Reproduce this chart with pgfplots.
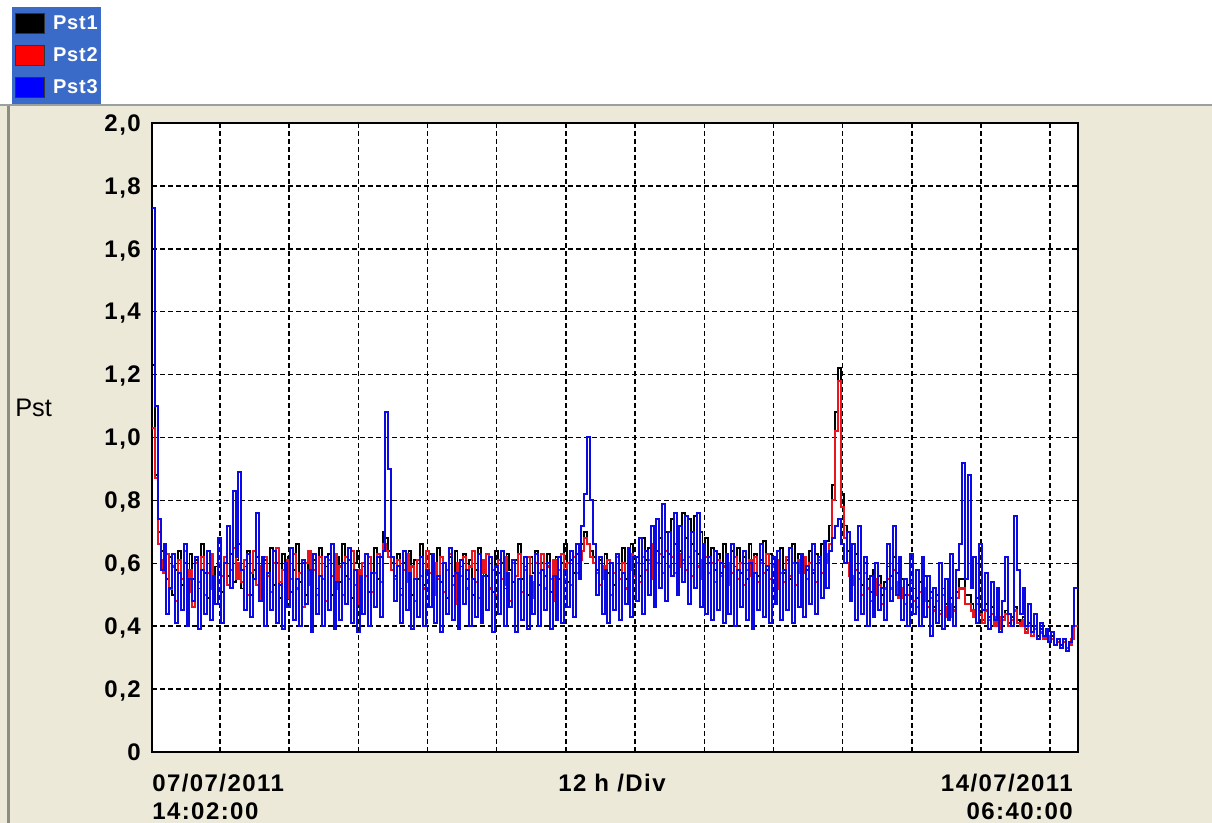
\documentclass[border=0pt]{standalone}
\usepackage{fontspec}
\setmainfont{Liberation Sans}
\newfontfamily\lbfont{Liberation Sans}[LetterSpace=6]
\newfontfamily\lgfont{Liberation Sans}[LetterSpace=4]
\usepackage{pgfplots}
\usepackage{pgfplotstable}
\pgfplotsset{compat=1.18}
\definecolor{beige}{HTML}{ECE9D8}
\definecolor{legblue}{HTML}{3A6BC9}
\definecolor{bandgrey}{HTML}{9AA0A0}
\definecolor{edgegrey}{HTML}{8C8C80}
\definecolor{serblue}{RGB}{10,10,225}
\definecolor{serred}{RGB}{232,20,30}

\pgfplotstableread{
h p1 p2 p3
0 1.23 1.03 1.73
0.5 0.88 0.87 1.10
1 0.70 0.66 0.74
1.5 0.64 0.61 0.58
2 0.60 0.57 0.66
2.5 0.55 0.63 0.44
3 0.62 0.52 0.52
3.5 0.50 0.59 0.63
4 0.58 0.48 0.41
4.5 0.64 0.61 0.57
5 0.53 0.55 0.45
5.5 0.60 0.64 0.66
6 0.48 0.51 0.40
6.5 0.63 0.58 0.55
7 0.55 0.46 0.48
7.5 0.61 0.60 0.62
8 0.52 0.54 0.39
8.5 0.66 0.62 0.58
9 0.57 0.50 0.44
9.5 0.49 0.57 0.64
10 0.62 0.63 0.42
10.5 0.54 0.52 0.56
11 0.59 0.47 0.47
11.5 0.65 0.60 0.68
12 0.51 0.56 0.41
12.5 0.60 0.62 0.60
13 0.56 0.53 0.72
13.5 0.63 0.58 0.52
14 0.54 0.65 0.83
14.5 0.61 0.55 0.62
15 0.66 0.60 0.89
15.5 0.52 0.54 0.58
16 0.59 0.61 0.45
16.5 0.64 0.50 0.63
17 0.50 0.57 0.43
17.5 0.58 0.64 0.55
18 0.62 0.53 0.76
18.5 0.55 0.59 0.48
19 0.48 0.48 0.62
19.5 0.61 0.62 0.40
20 0.57 0.56 0.57
20.5 0.65 0.51 0.45
21 0.53 0.60 0.64
21.5 0.60 0.65 0.41
22 0.49 0.54 0.53
22.5 0.63 0.58 0.39
23 0.56 0.49 0.60
23.5 0.62 0.61 0.46
24 0.51 0.55 0.65
24.5 0.58 0.63 0.42
25 0.66 0.52 0.55
25.5 0.54 0.57 0.40
26 0.60 0.46 0.61
26.5 0.50 0.60 0.47
27 0.64 0.64 0.58
27.5 0.57 0.53 0.38
28 0.61 0.58 0.63
28.5 0.52 0.50 0.44
29 0.65 0.62 0.56
29.5 0.55 0.55 0.40
30 0.59 0.48 0.62
30.5 0.63 0.61 0.45
31 0.50 0.56 0.66
31.5 0.58 0.63 0.39
32 0.62 0.52 0.54
32.5 0.54 0.59 0.42
33 0.66 0.50 0.60
33.5 0.56 0.62 0.47
34 0.61 0.55 0.65
34.5 0.49 0.64 0.41
35 0.60 0.53 0.58
35.5 0.64 0.58 0.38
36 0.53 0.47 0.56
36.5 0.59 0.60 0.44
37 0.63 0.56 0.63
37.5 0.51 0.62 0.40
38 0.57 0.51 0.57
38.5 0.65 0.57 0.46
39 0.55 0.63 0.62
39.5 0.62 0.54 0.43
40 0.70 0.66 0.64
40.5 0.68 0.64 1.08
41 0.64 0.62 0.90
41.5 0.60 0.58 0.62
42 0.56 0.55 0.48
42.5 0.63 0.61 0.59
43 0.52 0.50 0.41
43.5 0.60 0.58 0.64
44 0.57 0.63 0.45
44.5 0.64 0.54 0.57
45 0.50 0.59 0.39
45.5 0.61 0.48 0.55
46 0.55 0.61 0.43
46.5 0.66 0.56 0.62
47 0.53 0.52 0.40
47.5 0.59 0.64 0.58
48 0.63 0.57 0.46
48.5 0.51 0.50 0.63
49 0.58 0.60 0.41
49.5 0.65 0.55 0.56
50 0.54 0.62 0.38
50.5 0.60 0.51 0.60
51 0.49 0.58 0.44
51.5 0.62 0.63 0.65
52 0.56 0.53 0.42
52.5 0.64 0.47 0.57
53 0.52 0.60 0.39
53.5 0.59 0.56 0.61
54 0.63 0.62 0.47
54.5 0.55 0.52 0.58
55 0.61 0.59 0.40
55.5 0.50 0.64 0.55
56 0.58 0.54 0.43
56.5 0.65 0.49 0.63
57 0.53 0.61 0.41
57.5 0.60 0.57 0.56
58 0.56 0.63 0.45
58.5 0.62 0.52 0.62
59 0.51 0.58 0.38
59.5 0.64 0.50 0.59
60 0.57 0.61 0.44
60.5 0.60 0.55 0.64
61 0.52 0.62 0.40
61.5 0.63 0.53 0.57
62 0.58 0.48 0.46
62.5 0.54 0.60 0.61
63 0.61 0.56 0.38
63.5 0.66 0.63 0.55
64 0.55 0.51 0.42
64.5 0.59 0.58 0.62
65 0.50 0.62 0.39
65.5 0.62 0.54 0.56
66 0.57 0.49 0.44
66.5 0.64 0.60 0.63
67 0.53 0.57 0.40
67.5 0.60 0.63 0.58
68 0.56 0.52 0.45
68.5 0.63 0.59 0.60
69 0.51 0.55 0.39
69.5 0.58 0.61 0.56
70 0.62 0.48 0.42
70.5 0.55 0.58 0.62
71 0.60 0.63 0.41
71.5 0.66 0.55 0.58
72 0.54 0.60 0.46
72.5 0.61 0.53 0.64
73 0.57 0.62 0.43
73.5 0.63 0.57 0.66
74 0.59 0.61 0.55
74.5 0.66 0.64 0.72
75 0.70 0.68 0.82
75.5 0.66 0.66 1.00
76 0.64 0.62 0.80
76.5 0.62 0.60 0.66
77 0.58 0.57 0.50
77.5 0.61 0.53 0.62
78 0.55 0.59 0.44
78.5 0.63 0.55 0.58
79 0.57 0.61 0.41
79.5 0.60 0.50 0.60
80 0.53 0.57 0.45
80.5 0.62 0.62 0.63
81 0.58 0.55 0.42
81.5 0.65 0.60 0.57
82 0.55 0.52 0.47
82.5 0.60 0.58 0.65
83 0.66 0.63 0.43
83.5 0.58 0.56 0.62
84 0.62 0.60 0.48
84.5 0.56 0.54 0.68
85 0.68 0.62 0.44
85.5 0.61 0.58 0.64
86 0.65 0.61 0.50
86.5 0.59 0.55 0.72
87 0.72 0.66 0.46
87.5 0.64 0.60 0.74
88 0.68 0.63 0.52
88.5 0.62 0.57 0.79
89 0.70 0.64 0.48
89.5 0.63 0.59 0.70
90 0.74 0.62 0.56
90.5 0.66 0.57 0.76
91 0.72 0.63 0.50
91.5 0.64 0.59 0.72
92 0.76 0.61 0.54
92.5 0.68 0.58 0.75
93 0.74 0.62 0.47
93.5 0.66 0.56 0.70
94 0.75 0.64 0.52
94.5 0.63 0.59 0.76
95 0.70 0.61 0.46
95.5 0.62 0.55 0.66
96 0.68 0.62 0.44
96.5 0.60 0.57 0.62
97 0.65 0.60 0.42
97.5 0.58 0.54 0.64
98 0.63 0.61 0.45
98.5 0.57 0.56 0.60
99 0.66 0.59 0.41
99.5 0.60 0.53 0.63
100 0.56 0.60 0.44
100.5 0.64 0.57 0.66
101 0.59 0.62 0.40
101.5 0.65 0.55 0.58
102 0.57 0.60 0.46
102.5 0.62 0.53 0.64
103 0.55 0.58 0.42
103.5 0.66 0.61 0.60
104 0.59 0.56 0.39
104.5 0.63 0.62 0.57
105 0.56 0.54 0.45
105.5 0.61 0.60 0.66
106 0.67 0.57 0.43
106.5 0.58 0.63 0.59
107 0.63 0.55 0.41
107.5 0.56 0.59 0.62
108 0.62 0.52 0.47
108.5 0.59 0.61 0.64
109 0.65 0.57 0.42
109.5 0.57 0.54 0.58
110 0.61 0.62 0.45
110.5 0.55 0.56 0.65
111 0.66 0.60 0.41
111.5 0.60 0.53 0.60
112 0.63 0.61 0.46
112.5 0.56 0.57 0.63
113 0.62 0.62 0.43
113.5 0.58 0.55 0.59
114 0.64 0.60 0.47
114.5 0.57 0.58 0.66
115 0.63 0.54 0.44
115.5 0.60 0.61 0.62
116 0.66 0.57 0.49
116.5 0.61 0.63 0.67
117 0.67 0.60 0.52
117.5 0.72 0.66 0.64
118 0.85 0.80 0.68
118.5 1.08 1.02 0.72
119 1.22 1.18 0.74
119.5 0.82 0.78 0.66
120 0.72 0.68 0.60
120.5 0.64 0.60 0.70
121 0.60 0.56 0.48
121.5 0.55 0.53 0.66
122 0.63 0.58 0.42
122.5 0.57 0.55 0.72
123 0.53 0.50 0.44
123.5 0.60 0.57 0.62
124 0.55 0.52 0.40
124.5 0.51 0.48 0.56
125 0.58 0.55 0.43
125.5 0.53 0.50 0.60
126 0.56 0.53 0.45
126.5 0.50 0.47 0.52
127 0.54 0.52 0.42
127.5 0.59 0.55 0.66
128 0.56 0.52 0.48
128.5 0.62 0.58 0.72
129 0.57 0.54 0.50
129.5 0.52 0.49 0.62
130 0.55 0.52 0.42
130.5 0.50 0.47 0.55
131 0.53 0.50 0.40
131.5 0.57 0.54 0.63
132 0.52 0.48 0.44
132.5 0.49 0.46 0.58
133 0.54 0.51 0.40
133.5 0.50 0.48 0.62
134 0.56 0.52 0.43
134.5 0.48 0.46 0.56
135 0.51 0.49 0.37
135.5 0.46 0.45 0.52
136 0.50 0.48 0.41
136.5 0.45 0.44 0.60
137 0.52 0.50 0.39
137.5 0.47 0.46 0.55
138 0.44 0.43 0.42
138.5 0.49 0.47 0.63
139 0.46 0.45 0.40
139.5 0.51 0.49 0.58
140 0.55 0.52 0.66
140.5 0.55 0.52 0.92
141 0.50 0.47 0.55
141.5 0.50 0.47 0.88
142 0.47 0.45 0.52
142.5 0.44 0.43 0.62
143 0.49 0.47 0.41
143.5 0.45 0.44 0.66
144 0.42 0.41 0.45
144.5 0.47 0.45 0.57
145 0.43 0.42 0.39
145.5 0.46 0.44 0.54
146 0.41 0.40 0.42
146.5 0.44 0.43 0.52
147 0.40 0.39 0.38
147.5 0.43 0.42 0.48
148 0.45 0.44 0.62
148.5 0.41 0.40 0.44
149 0.43 0.42 0.40
149.5 0.46 0.45 0.75
150 0.42 0.41 0.58
150.5 0.40 0.40 0.44
151 0.43 0.42 0.52
151.5 0.39 0.38 0.40
152 0.41 0.40 0.47
152.5 0.38 0.37 0.38
153 0.40 0.39 0.44
153.5 0.37 0.36 0.36
154 0.39 0.38 0.41
154.5 0.36 0.36 0.37
155 0.38 0.37 0.39
155.5 0.35 0.35 0.35
156 0.37 0.36 0.38
156.5 0.34 0.34 0.34
157 0.36 0.35 0.36
157.5 0.34 0.33 0.33
158 0.35 0.35 0.36
158.5 0.33 0.33 0.32
159 0.35 0.34 0.35
159.5 0.37 0.36 0.40
160 0.40 0.40 0.52
160.63 0.40 0.40 0.52
}\pst

\begin{document}
\begin{tikzpicture}
\useasboundingbox (0,0) rectangle (909pt,617.25pt);
\fill[beige] (0,0) rectangle (909pt,617.25pt);
\fill[white] (0pt,539.25pt) rectangle (909pt,617.25pt);
\fill[bandgrey] (0pt,537.5pt) rectangle (909pt,539.25pt);
\fill[edgegrey] (5.25pt,0pt) rectangle (7.5pt,537.5pt);
\begin{axis}[
  at={(114pt,53.25pt)}, anchor=south west,
  width=694.5pt, height=471.75pt, scale only axis,
  xmin=0, xmax=160.63, ymin=0, ymax=2,
  xtick={11.8,23.8,35.8,47.8,59.8,71.8,83.8,95.8,107.8,119.8,131.8,143.8,155.8},
  xticklabels={},
  ytick={0,0.2,0.4,0.6,0.8,1,1.2,1.4,1.6,1.8,2},
  yticklabels={0,{0,2},{0,4},{0,6},{0,8},{1,0},{1,2},{1,4},{1,6},{1,8},{2,0}},
  major tick length=0pt,
  grid=major,
  major grid style={black, line width=1.1pt, dash pattern=on 3.4pt off 2.6pt},
  axis line style={black, line width=1.1pt},
  axis background/.style={fill=white},
  yticklabel style={font=\lbfont\bfseries\fontsize{18}{20}\selectfont, inner sep=0pt, text depth=0pt, xshift=-8.25pt},
  legend style={at={(-0.15119,1.18442)}, anchor=north west, fill=legblue, draw=none,
    inner xsep=2.25pt, inner ysep=4.5pt, row sep=8.25pt,
    nodes={inner sep=0pt, text=white, font=\lgfont\bfseries\fontsize{15}{16}\selectfont},
    /tikz/every odd column/.append style={column sep=6pt}},
  legend cell align=left,
  legend image code/.code={\draw[#1, line width=0.6pt, draw=black!80] (0pt,-7.5pt) rectangle (21.75pt,7.5pt);},
]
\addlegendimage{fill=black}
\addlegendentry{Pst1}
\addlegendimage{fill=red}
\addlegendentry{Pst2}
\addlegendimage{fill=blue}
\addlegendentry{Pst3}
\addplot[const plot, black, line width=1.4pt, forget plot] table[x=h, y=p1] {\pst};
\addplot[const plot, serred, line width=1.6pt, forget plot] table[x=h, y=p2] {\pst};
\addplot[const plot, serblue, line width=1.5pt, forget plot] table[x=h, y=p3] {\pst};
\end{axis}
\begin{scope}[every node/.style={inner sep=0pt, font=\lbfont\bfseries\fontsize{18}{20}\selectfont}]
\node[anchor=base west] at (114pt,23.75pt) {07/07/2011};
\node[anchor=base west] at (114pt,2.5pt) {14:02:00};
\node[anchor=base east] at (804.75pt,23.75pt) {14/07/2011};
\node[anchor=base east] at (804.75pt,2.5pt) {06:40:00};
\node[anchor=base west] at (418.5pt,23.75pt) {12 h /Div};
\end{scope}
\node[anchor=base west, inner sep=0pt, font=\fontsize{19}{21}\selectfont] at (11.25pt,304.5pt) {Pst};
\end{tikzpicture}
\end{document}
